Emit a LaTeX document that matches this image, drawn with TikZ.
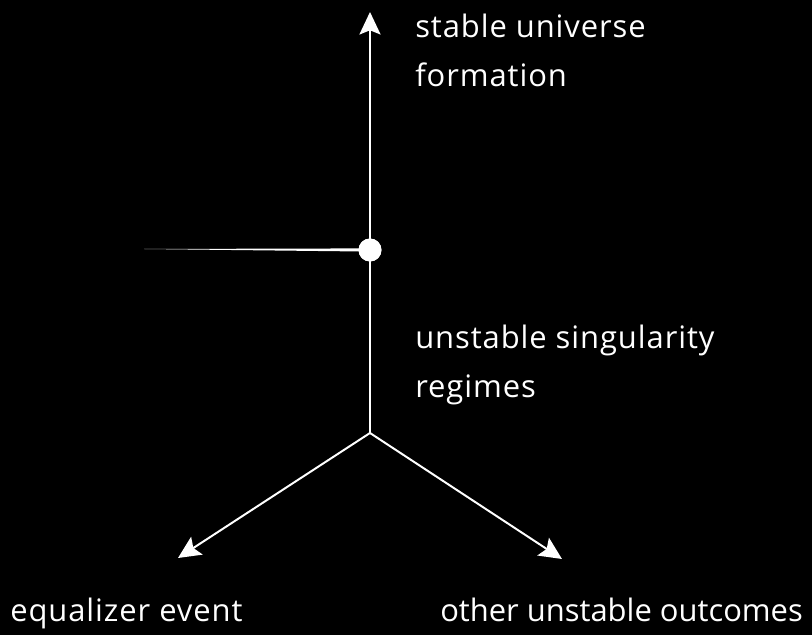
\documentclass[tikz,border=0pt]{standalone}
\usepackage{fontspec}
\setmainfont{Open Sans}[LetterSpace=3]
\usetikzlibrary{arrows.meta,calc}

\begin{document}
\begin{tikzpicture}[x=0.025cm, y=-0.025cm,
  every node/.style={text=white, font=\fontsize{22}{34.5}\selectfont},
  lbl/.style={anchor=north west, inner sep=0pt, align=left},
  arr/.style={-{Stealth[length=16pt,width=15pt,inset=3pt]}, line width=1.4pt, white},
  dot/.style={circle, fill=white, minimum size=16.3pt, inner sep=0pt},
]

% background
\useasboundingbox (0,0) rectangle (812,635);
\fill[black] (0,0) rectangle (812,635);

% fork point, singularity dot and arrow ends
\node[dot] (eq) at (370,250) {};
\coordinate (fork) at (370,433);
\coordinate (top) at (370,12);
\coordinate (left) at (178,558);
\coordinate (right) at (562,559);
\coordinate (tail) at (144,249);

% arrows
\draw[arr] (fork) -- (top);
\draw[arr] (fork) -- (left);
\draw[arr] (fork) -- (right);
\node[dot] at (eq) {};

% tapered line into the dot
\fill[white] (tail) -- ($(eq.center)+(0,-1.6)$) -- ($(eq.center)+(0,1.6)$) -- cycle;

% labels
\node[lbl] (stable) at (415,14) {stable universe\\formation};
\node[lbl] (unstable) at (415,325) {unstable singularity\\regimes};
\node[lbl] (equal) at (10,598) {equalizer event};
\node[lbl] (other) at (440,598) {\addfontfeature{LetterSpace=0}other unstable outcomes};

\end{tikzpicture}
\end{document}
